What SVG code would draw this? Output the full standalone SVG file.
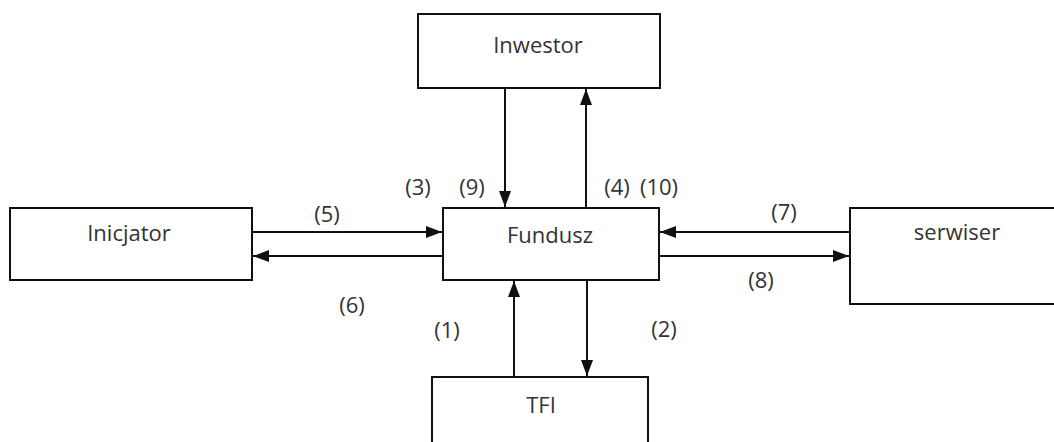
<svg xmlns="http://www.w3.org/2000/svg" width="1054" height="442" viewBox="0 0 1054 442">
<style>
.box{fill:#fff;stroke:#111;stroke-width:2}
.t{font-family:"Open Sans","Liberation Sans",sans-serif;font-size:22px;fill:#333;text-anchor:middle}
.c{stroke:#111;stroke-width:2;fill:none;marker-end:url(#ah)}
</style>
<defs>
<marker id="ah" viewBox="0 0 16 12" refX="16" refY="6" markerWidth="16" markerHeight="12" markerUnits="userSpaceOnUse" orient="auto">
<path d="M0,0 L16,6 L0,12 z" fill="#111"/>
</marker>
</defs>
<rect width="1054" height="442" fill="#fff"/>
<g id="inwestor"><rect class="box" x="418" y="14" width="242" height="74"/><text class="t" x="538" y="53">Inwestor</text></g>
<g id="inicjator"><rect class="box" x="10" y="208" width="242" height="72"/><text class="t" x="129" y="241">Inicjator</text></g>
<g id="fundusz"><rect class="box" x="443" y="208" width="216" height="72"/><text class="t" x="550" y="243">Fundusz</text></g>
<g id="serwiser"><rect class="box" x="850" y="208" width="214" height="96"/><text class="t" x="957" y="240">serwiser</text></g>
<g id="tfi"><rect class="box" x="432" y="377" width="216" height="80"/><text class="t" x="541" y="413">TFI</text></g>
<g id="connectors">
<line class="c" x1="505" y1="88" x2="505" y2="207"/>
<line class="c" x1="586" y1="208" x2="586" y2="89"/>
<line class="c" x1="252" y1="232" x2="442" y2="232"/>
<line class="c" x1="443" y1="256" x2="253" y2="256"/>
<line class="c" x1="850" y1="232" x2="660" y2="232"/>
<line class="c" x1="659" y1="256" x2="849" y2="256"/>
<line class="c" x1="514" y1="377" x2="514" y2="281"/>
<line class="c" x1="587" y1="280" x2="587" y2="376"/>
</g>
<g id="labels">
<text class="t" x="418" y="195">(3)</text>
<text class="t" x="472" y="195">(9)</text>
<text class="t" x="617" y="195">(4)</text>
<text class="t" x="659" y="195">(10)</text>
<text class="t" x="327" y="222">(5)</text>
<text class="t" x="352" y="313">(6)</text>
<text class="t" x="784" y="220">(7)</text>
<text class="t" x="761" y="288">(8)</text>
<text class="t" x="447" y="338">(1)</text>
<text class="t" x="664" y="337">(2)</text>
</g>
</svg>
